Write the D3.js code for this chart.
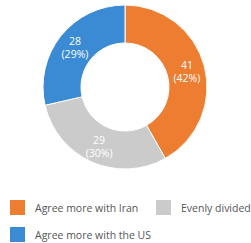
<!DOCTYPE html>
<html>
<head>
<meta charset="utf-8">
<script src="https://cdn.jsdelivr.net/npm/d3@7"></script>
<style>
  body { margin: 0; background: #fff; }
  svg { display: block; font-family: "Open Sans", sans-serif; }
</style>
</head>
<body>
<svg id="chart" width="251" height="243"></svg>
<script>
// data
const categories = ["Agree more with Iran", "Evenly divided", "Agree more with the US"];
const values = [41, 29, 28];
const percents = ["42%", "30%", "29%"];
const colors = ["#ED7D31", "#CBCBCB", "#3A8BD4"];

const svg = d3.select("#chart");
const cx = 125, cy = 87, outerR = 82, innerR = 44;

const pie = d3.pie().sort(null).value(d => d.value);
const arcs = pie(values.map((v, i) => ({ name: categories[i], value: v, pct: percents[i], color: colors[i] })));

const arc = d3.arc().innerRadius(innerR).outerRadius(outerR);
const labelArc = d3.arc().innerRadius(64).outerRadius(64);

const g = svg.append("g").attr("transform", `translate(${cx},${cy})`);

g.selectAll("path.slice")
  .data(arcs)
  .enter()
  .append("path")
  .attr("class", "slice")
  .attr("d", arc)
  .attr("fill", d => d.data.color)
  .attr("stroke", "#fff")
  .attr("stroke-width", 1);

// value on top, percentage under it
const lbl = g.selectAll("g.lbl")
  .data(arcs)
  .enter()
  .append("g")
  .attr("class", "lbl")
  .attr("transform", d => `translate(${labelArc.centroid(d)})`)
  .attr("text-anchor", "middle")
  .attr("fill", "#fff")
  .attr("font-size", 10.5);
lbl.append("text").attr("y", -2).text(d => d.data.value);
lbl.append("text").attr("y", 11).text(d => "(" + d.data.pct + ")");

// legend
const legendPos = [[10, 200], [156, 200], [10, 227]];
const legend = svg.selectAll("g.leg")
  .data(categories)
  .enter()
  .append("g")
  .attr("class", "leg")
  .attr("transform", (d, i) => `translate(${legendPos[i][0]},${legendPos[i][1]})`);
legend.append("rect")
  .attr("width", 15)
  .attr("height", 15)
  .attr("fill", (d, i) => colors[i]);
legend.append("text")
  .attr("x", 25)
  .attr("y", 11.5)
  .attr("font-size", 10.5)
  .attr("fill", "#555")
  .text(d => d);
</script>
</body>
</html>
